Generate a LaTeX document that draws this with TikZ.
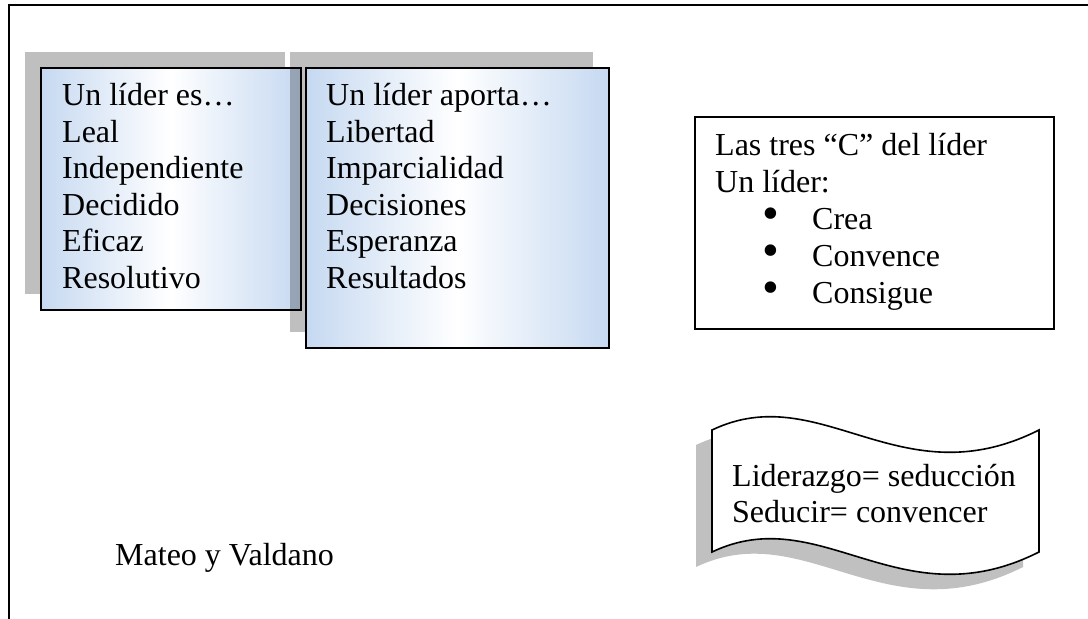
\documentclass[tikz,border=0pt]{standalone}
\usepackage{fontspec}
\setmainfont{Liberation Serif}
\usetikzlibrary{positioning,shadows}
\definecolor{boxblue}{RGB}{198,217,241}
\definecolor{shadowgray}{RGB}{192,192,192}
\tikzset{listbox/.style={draw,line width=1.6pt,anchor=north west,inner sep=0pt,
  left color=boxblue,right color=boxblue,middle color=white,
  general shadow={fill=black,fill opacity=0.25,shadow xshift=-16pt,shadow yshift=16pt}},
 lines/.style={font=\fontsize{32}{36.5}\selectfont,align=left,inner sep=0pt,anchor=base west}}
\newcommand{\wavepath}{(712,430) .. controls (821,378) and (900,500) .. (1039,430)
 -- (1039,552) .. controls (900,622) and (821,500) .. (712,552) -- cycle}
\newcommand{\bulletitem}[1]{\makebox[97pt][l]{\hspace*{47pt}\smash{\fontsize{48}{0}\selectfont\textbullet}}#1}

\begin{document}
\begin{tikzpicture}[x=1pt,y=-1pt]
\useasboundingbox (0,0) rectangle (1088,619);

% frame
\draw[line width=1.8pt] (9,619) -- (9,5) -- (1088,5);

\node[listbox,minimum width=260pt,minimum height=242pt] (ESB) at (40,67) {};
\node[listbox,minimum width=303pt,minimum height=280pt] (APB) at (305,67) {};
% base anchor = last line
\node[lines] (ES) at (62,288) {Un líder es…\\ Leal\\ Independiente\\ Decidido\\ Eficaz\\ Resolutivo};
\node[lines] (AP) at (326,288) {Un líder aporta…\\ Libertad\\ Imparcialidad\\ Decisiones\\ Esperanza\\ Resultados};

\node[draw,line width=1.6pt,anchor=north west,minimum width=359pt,minimum height=212pt] (TCB) at (694,116) {};
\node[lines,font=\fontsize{32}{36.8}\selectfont] (TC) at (715,303) {Las tres “C” del líder\\ Un líder:\\ \bulletitem{Crea}\\ \bulletitem{Convence}\\ \bulletitem{Consigue}};

% wave
\fill[shadowgray,xshift=-16pt,yshift=-15pt] \wavepath;
\draw[line width=1.6pt,fill=white] \wavepath;
\node[lines,font=\fontsize{32}{35.5}\selectfont] (LS) at (732,522) {Liderazgo= seducción\\ Seducir= convencer};

\node[lines] (MV) at (115,565) {Mateo y Valdano};
\end{tikzpicture}
\end{document}
